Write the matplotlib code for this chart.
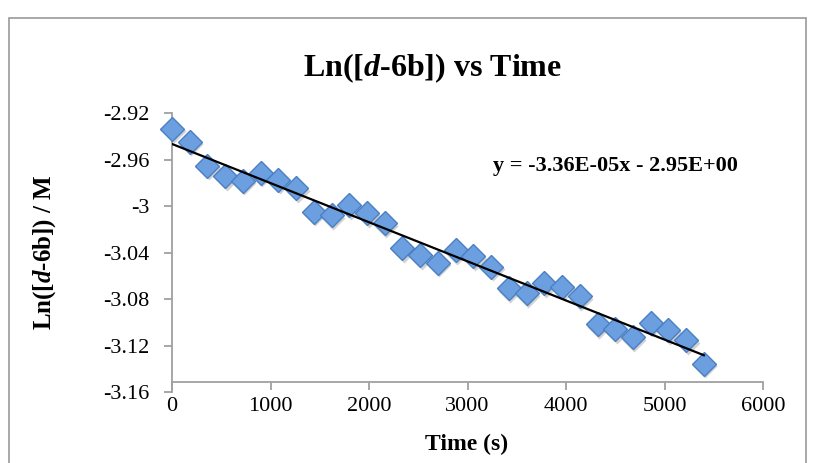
import numpy as np
import matplotlib
matplotlib.use("Agg")
import matplotlib.pyplot as plt
import matplotlib.transforms as mtransforms
from matplotlib.patches import Rectangle
from matplotlib.ticker import FuncFormatter

plt.rcParams["font.family"] = ["Liberation Serif", "DejaVu Serif"]
plt.rcParams["mathtext.fontset"] = "custom"
plt.rcParams["mathtext.it"] = "Liberation Serif:italic:bold"
plt.rcParams["mathtext.rm"] = "Liberation Serif:bold"

# Time points (s) and ln of concentration
time_s = [0, 180, 360, 540, 720, 900, 1080, 1260, 1440, 1620,
          1800, 1980, 2160, 2340, 2520, 2700, 2880, 3060, 3240, 3420,
          3600, 3780, 3960, 4140, 4320, 4500, 4680, 4860, 5040, 5220, 5400]
ln_conc = [-2.9336, -2.9447, -2.9655, -2.9741, -2.9781, -2.9713, -2.9775, -2.9847, -3.0048, -3.0076,
           -2.9990, -3.0061, -3.0148, -3.0362, -3.0420, -3.0486, -3.0377, -3.0428, -3.0520, -3.0706,
           -3.0749, -3.0663, -3.0692, -3.0772, -3.1013, -3.1058, -3.1127, -3.1001, -3.1064, -3.1152,
           -3.1355]

x_ticks = [0, 1000, 2000, 3000, 4000, 5000, 6000]
y_ticks = [-3.16, -3.12, -3.08, -3.04, -3.00, -2.96, -2.92]

x = np.array(time_s, dtype=float)
y = np.array(ln_conc, dtype=float)
slope, intercept = np.polyfit(x, y, 1)

W, H = 813, 463
fig = plt.figure(figsize=(W / 100, H / 100), dpi=100)

# chart-area frame
fig.patches.append(Rectangle((9 / W, -0.05), (806 - 9) / W, 1.05 - 18 / H,
                             transform=fig.transFigure, fill=False,
                             edgecolor="#9a9a9a", linewidth=1.2))

ax = fig.add_axes([172 / W, 1 - 392.5 / H, (763 - 172) / W, (392.5 - 113) / H])
ax.set_xlim(0, 6000)
ax.set_ylim(-3.16, -2.92)
ax.set_xticks(x_ticks)
ax.set_yticks(y_ticks)
ax.yaxis.set_major_formatter(FuncFormatter(lambda v, p: f"{v:g}"))

gray = "#a0a0a0"
for s in ("top", "right"):
    ax.spines[s].set_visible(False)
ax.spines["left"].set_color(gray)
ax.spines["left"].set_linewidth(1.3)
ax.spines["bottom"].set_color(gray)
ax.spines["bottom"].set_linewidth(1.3)
ax.spines["bottom"].set_position(("data", -3.151))
ax.tick_params(axis="both", direction="out", length=6, width=1.3, color=gray,
               labelsize=16, labelcolor="black")
ax.tick_params(axis="x", pad=5)
ax.tick_params(axis="y", pad=10)

# drop shadow under the markers
shadow = mtransforms.offset_copy(ax.transData, fig=fig, x=1.5, y=-2.5, units="dots")
ax.plot(x, y, linestyle="none", marker="D", markersize=11.8,
        markerfacecolor="#7f7f7f", markeredgecolor="none", alpha=0.35,
        transform=shadow, zorder=2, clip_on=False)
ax.plot(x, y, linestyle="none", marker="D", markersize=11.8,
        markerfacecolor="#6c9fe0", markeredgecolor="#4a7fc4", markeredgewidth=1.0,
        zorder=3, clip_on=False)

# linear trendline
xf = np.array([x.min(), x.max()])
ax.plot(xf, slope * xf + intercept, color="black", linewidth=1.6, zorder=4)

sign = "-" if intercept < 0 else "+"
eq = f"y = {slope:.2E}x {sign} {abs(intercept):.2E}"
fig.text(615 / W, 1 - 166 / H, eq, ha="center", va="center",
         fontsize=16, fontweight="bold")

fig.text(432 / W, 1 - 68 / H, r"Ln([$d$-6b]) vs Time", ha="center", va="center",
         fontsize=23, fontweight="bold")
fig.text(467 / W, 1 - 444 / H, "Time (s)", ha="center", va="center",
         fontsize=17, fontweight="bold")
fig.text(45 / W, 1 - 252 / H, r"Ln([$d$-6b]) / M", ha="center", va="center",
         rotation=90, fontsize=18, fontweight="bold")

fig.savefig("out.png", dpi=100)
